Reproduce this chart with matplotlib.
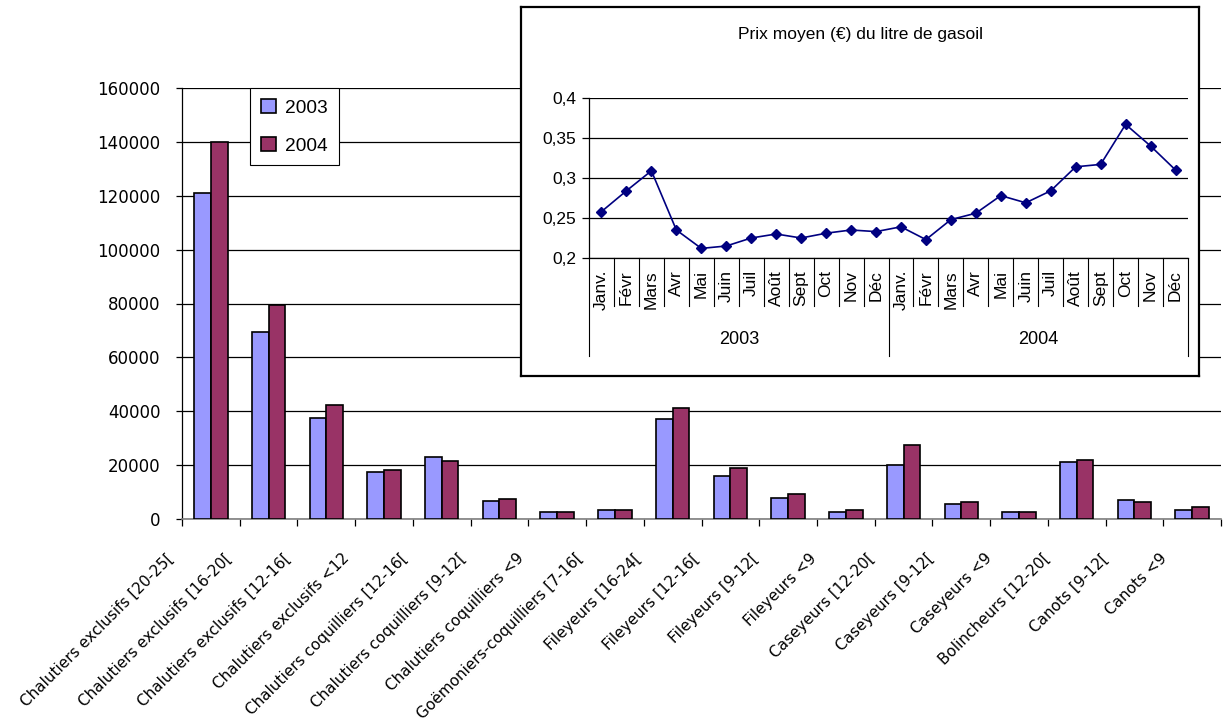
import matplotlib
matplotlib.use('Agg')
import matplotlib.pyplot as plt
from matplotlib import font_manager
import numpy as np

# ---------------- data ----------------
categories = ["Chalutiers exclusifs [20-25[", "Chalutiers exclusifs [16-20[",
              "Chalutiers exclusifs [12-16[", "Chalutiers exclusifs <12",
              "Chalutiers coquilliers [12-16[", "Chalutiers coquilliers [9-12[",
              "Chalutiers coquilliers <9", "Goëmoniers-coquilliers [7-16[",
              "Fileyeurs [16-24[", "Fileyeurs [12-16[", "Fileyeurs [9-12[",
              "Fileyeurs <9", "Caseyeurs [12-20[", "Caseyeurs [9-12[",
              "Caseyeurs <9", "Bolincheurs [12-20[", "Canots [9-12[", "Canots <9"]
values_2003 = [121000, 69500, 37500, 17300, 22900, 6800, 2700, 3300, 37200,
               16000, 7700, 2600, 20200, 5600, 2700, 21000, 7000, 3300]
values_2004 = [140000, 79400, 42500, 18100, 21700, 7500, 2600, 3300, 41300,
               19000, 9100, 3300, 27300, 6200, 2700, 21800, 6200, 4300]
series_labels = ["2003", "2004"]
y_ticks = [0, 20000, 40000, 60000, 80000, 100000, 120000, 140000, 160000]

inset_title = "Prix moyen (€) du litre de gasoil"
months = ["Janv.", "Févr", "Mars", "Avr", "Mai", "Juin", "Juil", "Août",
          "Sept", "Oct", "Nov", "Déc"]
years = ["2003", "2004"]
prix_2003 = [0.258, 0.284, 0.309, 0.235, 0.212, 0.215, 0.225, 0.230, 0.225,
             0.231, 0.235, 0.233]
prix_2004 = [0.239, 0.223, 0.248, 0.256, 0.278, 0.269, 0.284, 0.314, 0.317,
             0.367, 0.340, 0.310]
inset_yticks = [0.2, 0.25, 0.3, 0.35, 0.4]
inset_yticklabels = ["0,2", "0,25", "0,3", "0,35", "0,4"]

# ---------------- fonts ----------------
available = {f.name for f in font_manager.fontManager.ttflist}
MAIN_FONT = "DejaVu Sans"
INSET_FONT = "Liberation Sans" if "Liberation Sans" in available else "DejaVu Sans"
LEG_FONT = INSET_FONT
plt.rcParams['font.family'] = [MAIN_FONT]

W, H = 1223, 724
fig = plt.figure(figsize=(W / 100, H / 100), dpi=100)
fig.patch.set_facecolor('white')


def px_rect(x0, y0, x1, y1):
    return [x0 / W, 1 - y1 / H, (x1 - x0) / W, (y1 - y0) / H]


# ---------------- main chart ----------------
ax_l, ax_t, ax_r, ax_b = 182, 88, 1221, 519
ax = fig.add_axes(px_rect(ax_l, ax_t, ax_r, ax_b))
ax.set_zorder(0)
n = len(categories)
x = np.arange(n)
bw = 0.29
c2003 = '#9999FF'
c2004 = '#993366'
ax.bar(x - bw / 2, values_2003, width=bw, color=c2003, edgecolor='black',
       linewidth=1.2, label=series_labels[0], zorder=3)
ax.bar(x + bw / 2, values_2004, width=bw, color=c2004, edgecolor='black',
       linewidth=1.2, label=series_labels[1], zorder=3)
ax.set_xlim(-0.5, n - 0.5)
ax.set_ylim(0, 160000)
ax.set_yticks(y_ticks)
ax.set_yticklabels([str(v) for v in y_ticks], fontsize=12, family=MAIN_FONT)
ax.yaxis.grid(True, color='black', linewidth=0.9, zorder=0)
ax.set_axisbelow(True)
for s in ['top', 'right']:
    ax.spines[s].set_visible(False)
ax.spines['left'].set_color('black')
ax.spines['left'].set_linewidth(0.9)
ax.spines['bottom'].set_color('#808080')
ax.spines['bottom'].set_linewidth(1.2)
ax.tick_params(axis='y', direction='out', length=4.5, width=0.9, pad=11,
               color='black')
ax.set_xticks(np.arange(-0.5, n, 1.0))
ax.set_xticklabels([])
ax.tick_params(axis='x', direction='out', length=5, width=0.9, color='black')

axis_h = ax_b - ax_t
for i, lab in enumerate(categories):
    off = 0.69 - 0.22 * i / (n - 1)
    ax.text(i - off, -37 / axis_h, lab, transform=ax.get_xaxis_transform(),
            rotation=45, rotation_mode='anchor', ha='right', va='center',
            fontsize=11, family=MAIN_FONT, clip_on=False)

leg = ax.legend(loc='upper left', bbox_to_anchor=(250 / W, 1 - 88 / H),
                bbox_transform=fig.transFigure, frameon=True, fancybox=False,
                edgecolor='black', framealpha=1, handlelength=0.8,
                handleheight=0.8, labelspacing=1.05, borderpad=0.55,
                handletextpad=0.5, borderaxespad=0,
                prop={'family': LEG_FONT, 'size': 13.8})
leg.get_frame().set_linewidth(0.8)

# ---------------- inset ----------------
box = fig.add_axes(px_rect(521, 7, 1199, 376))
box.set_zorder(2)
box.set_xticks([])
box.set_yticks([])
box.set_facecolor('white')
for s in box.spines.values():
    s.set_color('black')
    s.set_linewidth(1.6)
box.text(0.5, 1 - (34 - 7) / (376 - 7), inset_title, transform=box.transAxes,
         ha='center', va='center', fontsize=12.5, family=INSET_FONT)

i_l, i_t, i_r, i_b = 589, 98, 1188, 258
ax2 = fig.add_axes(px_rect(i_l, i_t, i_r, i_b))
ax2.set_zorder(3)
ax2.patch.set_alpha(0)
prix = prix_2003 + prix_2004
m = len(prix)
ax2.plot(np.arange(m), prix, color='#000080', linewidth=1.2, marker='D',
         markersize=5, markerfacecolor='#000080', markeredgecolor='#000080',
         clip_on=False, zorder=4)
ax2.set_xlim(-0.5, m - 0.5)
ax2.set_ylim(0.2, 0.4)
ax2.set_yticks(inset_yticks)
ax2.set_yticklabels(inset_yticklabels, fontsize=12.5, family=INSET_FONT)
ax2.yaxis.grid(True, color='black', linewidth=0.9)
ax2.set_axisbelow(True)
for s in ['top', 'right']:
    ax2.spines[s].set_visible(False)
ax2.spines['left'].set_linewidth(0.9)
ax2.spines['bottom'].set_linewidth(0.9)
ax2.set_xticks([])
ax2.tick_params(axis='y', direction='out', length=5, width=0.9, pad=4)

ih = i_b - i_t
tr = ax2.get_xaxis_transform()
month_labels = months + months
for j, lab in enumerate(month_labels):
    ax2.text(j, -12 / ih, lab, transform=tr, rotation=90, ha='center',
             va='top', fontsize=12.5, family=INSET_FONT, clip_on=False)
for k in range(m + 1):
    xb = k - 0.5
    depth = 98 if k in (0, 12, 24) else 48
    ax2.plot([xb, xb], [0, -depth / ih], transform=tr, color='black',
             linewidth=0.8, clip_on=False)
for yi, yl in enumerate(years):
    ax2.text(yi * 12 + 5.5, -82 / ih, yl, transform=tr, ha='center',
             va='center', fontsize=13, family=INSET_FONT, clip_on=False)

fig.savefig('out.png', dpi=100, facecolor='white')
